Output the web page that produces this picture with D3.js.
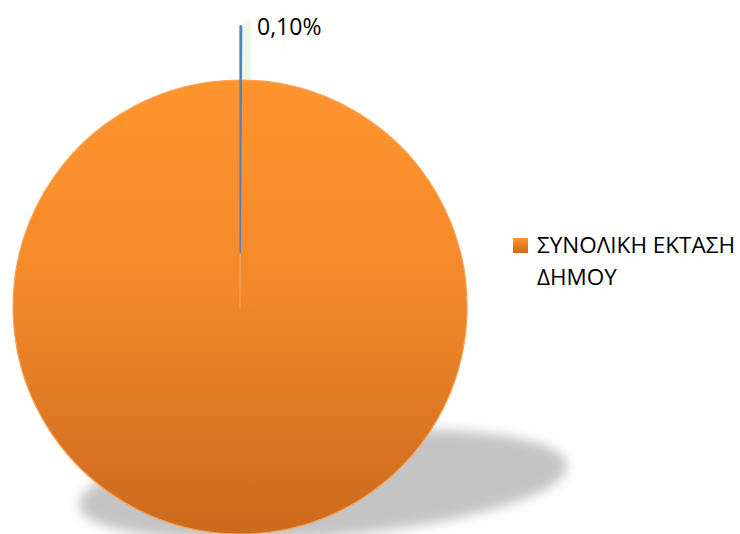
<!DOCTYPE html>
<html>
<head>
<meta charset="utf-8">
<script src="https://cdn.jsdelivr.net/npm/d3@7"></script>
<style>
  body { margin: 0; background: #fff; }
  svg { display: block; }
</style>
</head>
<body>
<svg id="chart" width="740" height="534"></svg>
<script>
// data
const categories = ["", "ΣΥΝΟΛΙΚΗ ΕΚΤΑΣΗ ΔΗΜΟΥ"];
const values = [0.1, 99.9];
const labels = ["0,10%", null];
const colors = ["#4f81bd", "#f79646"];

const width = 740, height = 534;
const cx = 240, cy = 307, radius = 227;
const explode = [54, 0]; // pull-out of each slice

const svg = d3.select("#chart");
const defs = svg.append("defs");

// orange gradient, light on top, dark at the bottom (local coords of the slice)
const grad = defs.append("linearGradient")
  .attr("id", "orangeGrad")
  .attr("gradientUnits", "userSpaceOnUse")
  .attr("x1", 0).attr("y1", -radius)
  .attr("x2", 0).attr("y2", radius);
grad.append("stop").attr("offset", "0%").attr("stop-color", "#ff942f");
grad.append("stop").attr("offset", "45%").attr("stop-color", "#f4892b");
grad.append("stop").attr("offset", "100%").attr("stop-color", "#cb691d");

const legGrad = defs.append("linearGradient")
  .attr("id", "legGrad").attr("x1", 0).attr("y1", 0).attr("x2", 0).attr("y2", 1);
legGrad.append("stop").attr("offset", "0%").attr("stop-color", "#ff942f");
legGrad.append("stop").attr("offset", "100%").attr("stop-color", "#cb691d");

defs.append("filter").attr("id", "blur")
  .attr("x", "-20%").attr("y", "-50%").attr("width", "140%").attr("height", "200%")
  .append("feGaussianBlur").attr("stdDeviation", 6);
defs.append("filter").attr("id", "blurSmall")
  .attr("x", "-200%").attr("y", "-20%").attr("width", "500%").attr("height", "140%")
  .append("feGaussianBlur").attr("stdDeviation", 3);

const pie = d3.pie().sort(null).value(d => d)(values);
const arc = d3.arc().innerRadius(0).outerRadius(radius);

function offset(d, i) {
  const a = (d.startAngle + d.endAngle) / 2;
  return [cx + explode[i] * Math.sin(a), cy - explode[i] * Math.cos(a)];
}

// perspective shadow behind the pie
svg.append("ellipse")
  .attr("cx", 323).attr("cy", 485)
  .attr("rx", 245).attr("ry", 52)
  .attr("transform", "rotate(-4.7 323 485)")
  .attr("fill", "#c4c4c4")
  .attr("filter", "url(#blur)");

// faint glow of the small exploded slice
svg.append("g")
  .attr("transform", () => { const [x, y] = offset(pie[0], 0); return `translate(${x + 6},${y})`; })
  .append("path")
  .attr("d", arc(pie[0]))
  .attr("fill", "none")
  .attr("stroke", "#d8eccb")
  .attr("stroke-width", 8)
  .attr("opacity", 0.6)
  .attr("filter", "url(#blurSmall)");

// slices: big one first, small exploded one on top
const order = [1, 0];
order.forEach(i => {
  const d = pie[i];
  const [x, y] = offset(d, i);
  svg.append("path")
    .attr("transform", `translate(${x},${y})`)
    .attr("d", arc(d))
    .attr("fill", i === 1 ? "url(#orangeGrad)" : colors[0])
    .attr("stroke", i === 1 ? "#f9a050" : colors[0])
    .attr("stroke-width", i === 1 ? 1.2 : 1.6)
    .attr("stroke-linejoin", "round");
});

// data label for the small slice
pie.forEach((d, i) => {
  if (!labels[i]) return;
  svg.append("text")
    .attr("x", 257)
    .attr("y", 35)
    .attr("font-family", "'Open Sans', 'Noto Sans', sans-serif")
    .attr("font-size", 23)
    .attr("fill", "#000")
    .text(labels[i]);
});

// legend (only the named category)
const legend = svg.append("g").attr("transform", "translate(513,238)");
categories.forEach((c, i) => {
  if (!c) return;
  legend.append("rect")
    .attr("width", 15).attr("height", 15)
    .attr("fill", "url(#legGrad)");
  const words = c.split(" ");
  const lines = [words.slice(0, 2).join(" "), words.slice(2).join(" ")];
  const t = legend.append("text")
    .attr("x", 24)
    .attr("y", 15)
    .attr("font-family", "'Open Sans', 'Noto Sans', sans-serif")
    .attr("font-size", 22.5)
    .attr("fill", "#000");
  lines.forEach((l, k) => {
    t.append("tspan").attr("x", 24).attr("dy", k === 0 ? 0 : 32).text(l);
  });
});
</script>
</body>
</html>
